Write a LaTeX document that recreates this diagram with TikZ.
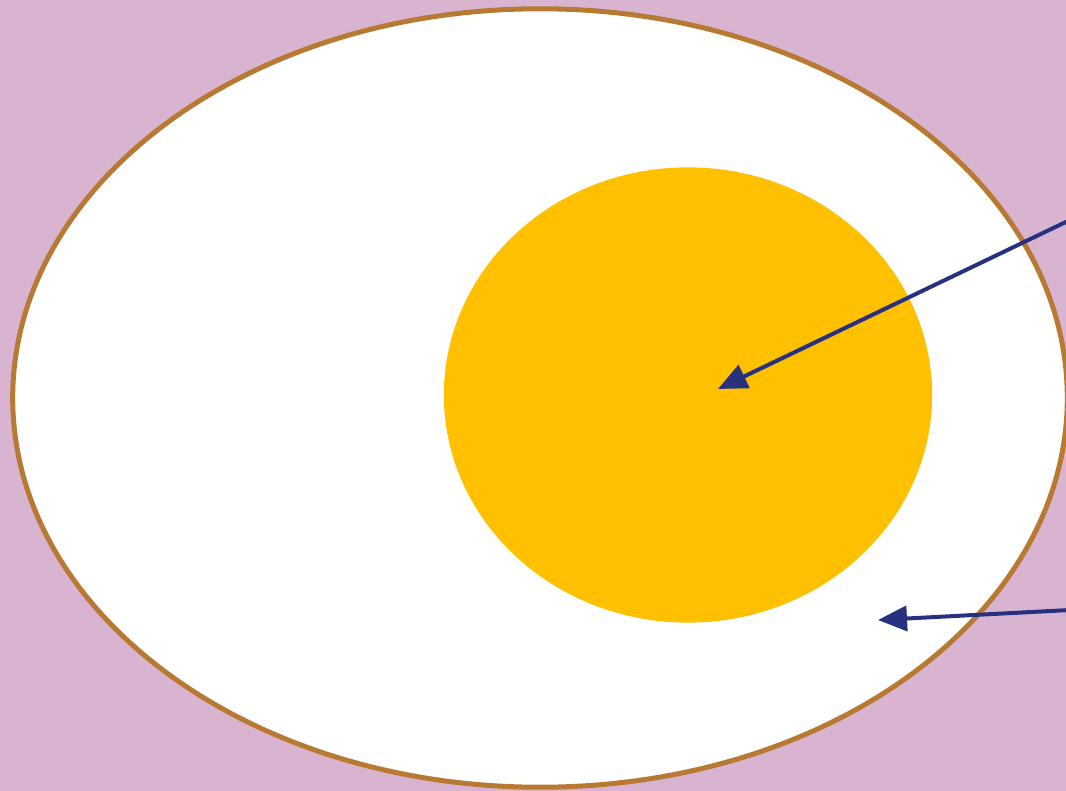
\documentclass[tikz,border=0pt]{standalone}
\usepackage{xcolor}
\usepackage{tikz}
\usetikzlibrary{arrows.meta, shapes.geometric}
\definecolor{lilac}{HTML}{D8B4D1}
\definecolor{shell}{HTML}{B87A33}
\definecolor{yolkcol}{HTML}{FFC000}
\definecolor{pointer}{HTML}{283080}

\begin{document}
\begin{tikzpicture}[
  x=0.01cm, y=-0.01cm,
  eggpart/.style={ellipse, inner sep=0pt},
  arrow/.style={-{Triangle[length=0.29cm, width=0.25cm]}, line width=0.04cm, pointer}
]
  \useasboundingbox (0,0) rectangle (1066,791);
  \clip (0,0) rectangle (1066,791);
  \fill[lilac] (0,0) rectangle (1066,791);

  \node[eggpart, fill=white, draw=shell, line width=0.05cm, minimum width=10.54cm, minimum height=7.78cm] (white) at (540,398) {};
  \node[eggpart, fill=yolkcol, minimum width=4.88cm, minimum height=4.55cm] (yolk) at (688,395) {};

  \coordinate (yolktip) at (718,389);
  \coordinate (whitetip) at (878,620);
  \coordinate (yolkfrom) at (1070,220);
  \coordinate (whitefrom) at (1070,610);

  \draw[arrow] (yolkfrom) -- (yolktip);
  \draw[arrow] (whitefrom) -- (whitetip);
\end{tikzpicture}
\end{document}
